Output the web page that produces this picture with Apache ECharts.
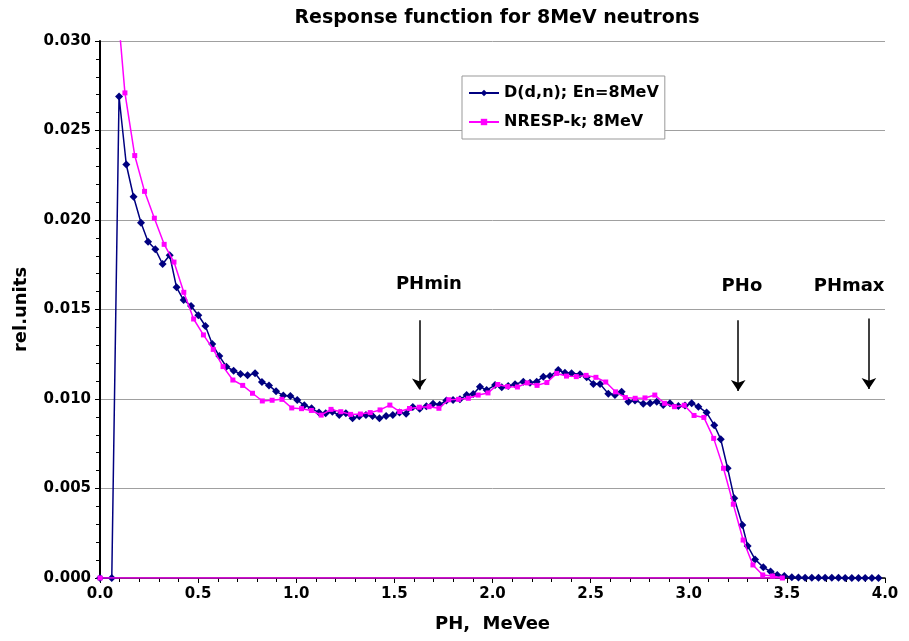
<!DOCTYPE html>
<html>
<head>
<meta charset="utf-8">
<script src="https://cdn.jsdelivr.net/npm/echarts@6/dist/echarts.min.js"></script>
<style>
html,body{margin:0;padding:0;background:#fff;}
#chart{width:909px;height:641px;}
</style>
</head>
<body>
<div id="chart"></div>
<script>
// ---- Data: D(d,n); En=8MeV (measured) ----
const dnX = [0, 0.06, 0.097, 0.134, 0.171, 0.209, 0.245, 0.282, 0.319, 0.355, 0.39, 0.426, 0.464, 0.501, 0.537, 0.572, 0.608, 0.644, 0.681, 0.716, 0.752, 0.79, 0.825, 0.861, 0.897, 0.934, 0.97, 1.005, 1.041, 1.078, 1.116, 1.150, 1.184, 1.219, 1.253, 1.287, 1.321, 1.355, 1.389, 1.424, 1.458, 1.492, 1.526, 1.560, 1.594, 1.629, 1.663, 1.697, 1.731, 1.765, 1.799, 1.834, 1.868, 1.902, 1.936, 1.97, 2.013, 2.047, 2.08, 2.115, 2.157, 2.191, 2.225, 2.259, 2.293, 2.335, 2.369, 2.403, 2.446, 2.48, 2.514, 2.548, 2.59, 2.624, 2.658, 2.692, 2.726, 2.768, 2.803, 2.837, 2.87, 2.904, 2.947, 2.981, 3.015, 3.049, 3.091, 3.13, 3.163, 3.198, 3.232, 3.273, 3.3, 3.338, 3.38, 3.417, 3.451, 3.487, 3.525, 3.559, 3.593, 3.627, 3.661, 3.695, 3.729, 3.763, 3.797, 3.831, 3.865, 3.899, 3.933, 3.967];
const dnY = [0, 0, 0.0269, 0.0231, 0.0213, 0.01985, 0.01879, 0.01836, 0.01754, 0.01803, 0.01624, 0.01553, 0.0152, 0.01468, 0.01408, 0.01307, 0.0124, 0.0118, 0.01158, 0.0114, 0.01132, 0.01144, 0.01095, 0.01076, 0.01043, 0.0102, 0.01017, 0.00994, 0.00965, 0.00948, 0.00924, 0.0092, 0.00929, 0.0091, 0.0092, 0.00892, 0.00903, 0.0091, 0.00905, 0.00892, 0.00905, 0.0091, 0.00924, 0.00918, 0.00955, 0.00945, 0.0096, 0.00974, 0.00968, 0.00992, 0.00994, 0.00998, 0.01022, 0.01028, 0.01069, 0.0105, 0.01078, 0.01065, 0.01073, 0.01082, 0.01097, 0.01091, 0.01097, 0.01125, 0.01128, 0.01162, 0.01147, 0.01144, 0.01138, 0.01121, 0.01084, 0.01084, 0.0103, 0.01022, 0.0104, 0.00985, 0.00992, 0.00974, 0.00976, 0.00985, 0.00966, 0.00976, 0.00961, 0.00963, 0.00976, 0.00957, 0.00924, 0.00854, 0.00775, 0.00613, 0.00445, 0.00296, 0.00179, 0.00104, 0.0006, 0.00036, 0.00017, 0.00011, 0.00004, 0.00003, 0.00002, 0.00002, 0.00001, 0.00001, 0.00001, 0.00001, 0, 0, 0, 0, 0, 0];

// ---- Data: NRESP-k; 8MeV (measured; last point returns to origin as in source) ----
const nrX = [0.077, 0.127, 0.177, 0.227, 0.277, 0.327, 0.377, 0.427, 0.477, 0.527, 0.577, 0.627, 0.677, 0.727, 0.777, 0.827, 0.877, 0.927, 0.977, 1.027, 1.077, 1.127, 1.177, 1.227, 1.277, 1.327, 1.377, 1.427, 1.477, 1.527, 1.577, 1.627, 1.677, 1.727, 1.777, 1.827, 1.877, 1.927, 1.977, 2.027, 2.077, 2.127, 2.177, 2.227, 2.277, 2.327, 2.377, 2.427, 2.477, 2.527, 2.577, 2.627, 2.677, 2.727, 2.777, 2.827, 2.877, 2.927, 2.977, 3.027, 3.077, 3.127, 3.177, 3.227, 3.277, 3.327, 3.377, 3.427, 3.477, 0];
const nrY = [0.0335, 0.0271, 0.0236, 0.0216, 0.0201, 0.01864, 0.01765, 0.01596, 0.01447, 0.01358, 0.01277, 0.01181, 0.01106, 0.01076, 0.01032, 0.00989, 0.00993, 0.00998, 0.0095, 0.00946, 0.00936, 0.0091, 0.00942, 0.00929, 0.00914, 0.00916, 0.00924, 0.00939, 0.00966, 0.0093, 0.00947, 0.00954, 0.00957, 0.00948, 0.00996, 0.00998, 0.01004, 0.01022, 0.01034, 0.01081, 0.01069, 0.01067, 0.0109, 0.01076, 0.01092, 0.01143, 0.01128, 0.01125, 0.01132, 0.01121, 0.01095, 0.0104, 0.01008, 0.01004, 0.01006, 0.01022, 0.00976, 0.00957, 0.00965, 0.00908, 0.00897, 0.0078, 0.00613, 0.00412, 0.00212, 0.00073, 0.00017, 0.00011, 0, 0];

// ---- Annotations ----
const arrowNames = ['PHmin', 'PHo', 'PHmax'];
const arrowX = [1.627, 3.252, 3.918];
const arrowTopY = [0.0144, 0.0144, 0.0145];
const arrowTipY = [0.01053, 0.01045, 0.01056];
const labelX = [1.676, 3.271, 3.817];
const labelY = [0.0164, 0.0163, 0.0163];

const seriesNames = ['D(d,n); En=8MeV', 'NRESP-k; 8MeV'];

function zip(xs, ys) {
  const n = Math.min(xs.length, ys.length);
  const out = [];
  for (let i = 0; i < n; i++) out.push([xs[i], ys[i]]);
  return out;
}

const FONT = 'DejaVu Sans';
const chart = echarts.init(document.getElementById('chart'), null, {renderer: 'canvas'});

const option = {
  animation: false,
  backgroundColor: '#ffffff',
  title: {
    text: 'Response function for 8MeV neutrons',
    left: 492,
    textAlign: 'center',
    top: 4,
    textStyle: {fontFamily: FONT, fontWeight: 'bold', fontSize: 19, color: '#000'}
  },
  legend: {
    left: 462,
    top: 76,
    orient: 'vertical',
    backgroundColor: '#ffffff',
    borderColor: '#999999',
    borderWidth: 1,
    padding: [9, 6, 9, 6],
    itemGap: 13,
    itemWidth: 30,
    itemHeight: 8,
    data: seriesNames,
    textStyle: {fontFamily: FONT, fontWeight: 'bold', fontSize: 16, color: '#000'}
  },
  grid: {left: 100, right: 24, top: 41, bottom: 63, containLabel: false},
  xAxis: {
    type: 'value',
    min: 0, max: 4, interval: 0.5,
    name: 'PH,  MeVee',
    nameLocation: 'middle',
    nameGap: 37,
    nameTextStyle: {fontFamily: FONT, fontWeight: 'bold', fontSize: 18, color: '#000'},
    axisLine: {show: true, onZero: false, lineStyle: {color: '#000', width: 1.5}},
    axisTick: {show: true, length: 5, lineStyle: {color: '#000'}},
    minorTick: {show: true, splitNumber: 5, length: 4, lineStyle: {color: '#000'}},
    splitLine: {show: false},
    axisLabel: {fontFamily: FONT, fontWeight: 'bold', fontSize: 15, color: '#000', margin: 9,
      formatter: v => v.toFixed(1)}
  },
  yAxis: {
    type: 'value',
    min: 0, max: 0.03, interval: 0.005,
    name: 'rel.units',
    nameLocation: 'middle',
    nameGap: 70,
    nameTextStyle: {fontFamily: FONT, fontWeight: 'bold', fontSize: 18, color: '#000'},
    axisLine: {show: true, lineStyle: {color: '#000', width: 2}},
    axisTick: {show: true, length: 5, lineStyle: {color: '#000'}},
    minorTick: {show: true, splitNumber: 5, length: 4, lineStyle: {color: '#000'}},
    splitLine: {show: true, lineStyle: {color: '#a0a0a0', width: 1}},
    axisLabel: {fontFamily: FONT, fontWeight: 'bold', fontSize: 15, color: '#000', margin: 9,
      formatter: v => v.toFixed(3)}
  },
  series: [
    {
      name: seriesNames[0],
      type: 'line',
      data: zip(dnX, dnY),
      symbol: 'diamond',
      symbolSize: 8,
      showSymbol: true,
      showAllSymbol: true,
      clip: true,
      lineStyle: {color: '#000080', width: 1.5},
      itemStyle: {color: '#000080'},
      z: 2,
      markLine: {
        silent: true,
        symbol: ['none', 'arrow'],
        symbolSize: 11,
        label: {show: false},
        lineStyle: {color: '#000', width: 1.5, type: 'solid'},
        data: arrowX.map((x, i) => [{coord: [x, arrowTopY[i]]}, {coord: [x, arrowTipY[i]]}])
      },
      markPoint: {
        silent: true,
        symbol: 'rect',
        symbolSize: 1,
        itemStyle: {color: 'rgba(0,0,0,0)'},
        label: {show: true, position: 'inside', fontFamily: FONT, fontWeight: 'bold', fontSize: 18, color: '#000',
          formatter: p => p.name},
        data: arrowNames.map((n, i) => ({name: n, coord: [labelX[i], labelY[i]]}))
      }
    },
    {
      name: seriesNames[1],
      type: 'line',
      data: zip(nrX, nrY),
      symbol: 'rect',
      symbolSize: 5,
      showSymbol: true,
      showAllSymbol: true,
      clip: true,
      lineStyle: {color: '#ff00ff', width: 1.5},
      itemStyle: {color: '#ff00ff'},
      z: 3
    }
  ]
};
chart.setOption(option);
</script>
</body>
</html>
